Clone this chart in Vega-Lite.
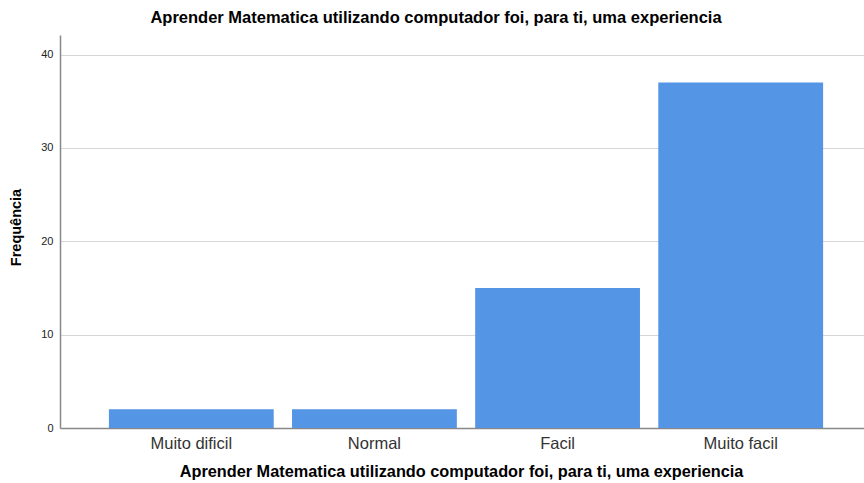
{
  "$schema": "https://vega.github.io/schema/vega-lite/v6.json",
  "autosize": {"type": "none"},
  "padding": {"left": 60, "top": 35, "right": 0, "bottom": 55},
  "width": 812,
  "height": 393,
  "background": "white",
  "title": {
    "text": "Aprender Matematica utilizando computador foi, para ti, uma experiencia",
    "font": "Liberation Sans",
    "fontSize": 16.5,
    "fontWeight": "bold",
    "color": "#000000",
    "anchor": "middle",
    "dx": -30,
    "offset": 9
  },
  "data": {
    "values": [
      {"categoria": "Muito dificil", "frequencia": 2},
      {"categoria": "Normal", "frequencia": 2},
      {"categoria": "Facil", "frequencia": 15},
      {"categoria": "Muito facil", "frequencia": 37}
    ]
  },
  "mark": {"type": "bar", "color": "#5595E5"},
  "encoding": {
    "x": {
      "field": "categoria",
      "type": "nominal",
      "sort": null,
      "scale": {"paddingInner": 0.1, "paddingOuter": 0.267},
      "axis": {
        "title": "Aprender Matematica utilizando computador foi, para ti, uma experiencia",
        "titleFont": "Liberation Sans",
        "titleFontSize": 16.3,
        "titleFontWeight": "bold",
        "titleColor": "#000000",
        "titlePadding": 12,
        "titleX": 401,
        "labelAngle": 0,
        "labelFont": "Liberation Sans",
        "labelFontSize": 16.5,
        "labelColor": "#333333",
        "labelPadding": 7,
        "ticks": false,
        "domainColor": "#888888",
        "domainWidth": 1.5,
        "grid": false
      }
    },
    "y": {
      "field": "frequencia",
      "type": "quantitative",
      "scale": {"domain": [0, 42.1], "nice": false},
      "axis": {
        "title": "Frequência",
        "titleFont": "Liberation Sans",
        "titleFontSize": 14.5,
        "titleFontWeight": "bold",
        "titleColor": "#000000",
        "titlePadding": 17,
        "titleY": 192,
        "values": [0, 10, 20, 30, 40],
        "labelFont": "Liberation Sans",
        "labelFontSize": 11,
        "labelColor": "#222222",
        "labelPadding": 7,
        "ticks": false,
        "domainColor": "#888888",
        "domainWidth": 1.5,
        "grid": true,
        "gridColor": "#d6d6d6",
        "gridWidth": 1
      }
    }
  },
  "config": {"view": {"stroke": null}}
}
